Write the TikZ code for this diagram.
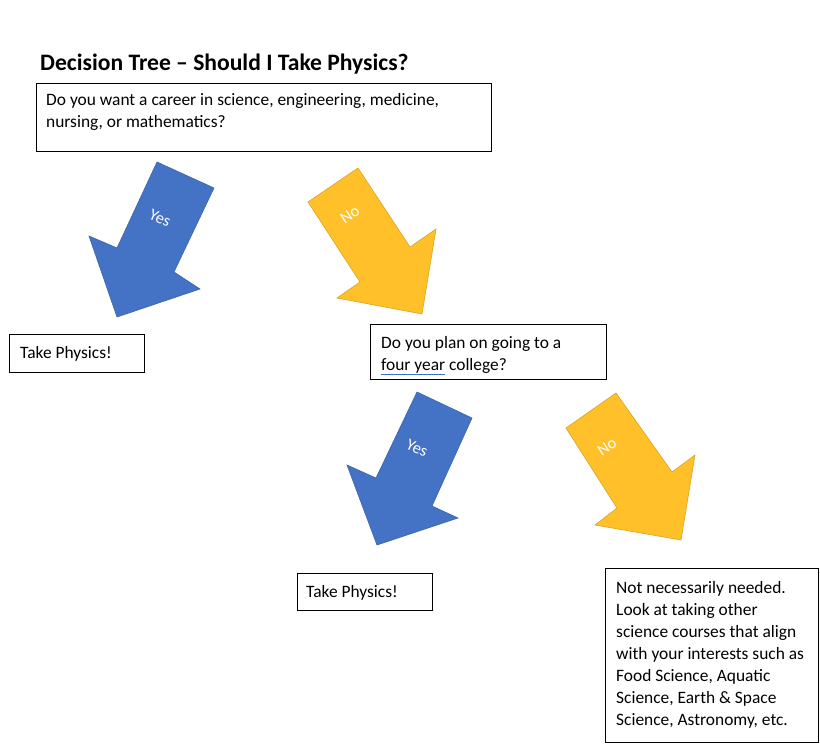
\documentclass[tikz,border=0pt]{standalone}
\usepackage{fontspec}
\setmainfont{Carlito}
\definecolor{offblue}{HTML}{4472C4}
\definecolor{offblueline}{HTML}{3A64AE}
\definecolor{offyellow}{HTML}{FFC02A}
\definecolor{offyellowline}{HTML}{D9A520}
\definecolor{squig}{HTML}{3D6FD0}
\begin{document}
\begin{tikzpicture}[x=1pt,y=-1pt,
  box/.style={draw=black,line width=1.1pt,inner sep=0pt,anchor=north west},
  txt/.style={inner sep=0pt,anchor=north west,align=left,font=\fontsize{17.4}{22}\selectfont},
  yesarrow/.style={fill=offblue,draw=offblueline,line width=0.6pt,line join=miter},
  noarrow/.style={fill=offyellow,draw=offyellowline,line width=0.6pt,line join=miter},
  arrowlbl/.style={text=white,inner sep=0pt,font=\fontsize{16.5}{18}\selectfont}]
\path[use as bounding box,fill=white] (0,0) rectangle (820,755);

% title
\node[inner sep=0pt,anchor=base west,font=\bfseries\fontsize{23.6}{26}\selectfont] (title) at (40,70) {Decision Tree -- Should I Take Physics?};

% question 1
\node[box,minimum width=455pt,minimum height=68pt] (q1) at (36,83) {};
\node[txt] (q1t) at (46,89.6) {\strut Do you want a career in science, engineering, medicine,\\nursing, or mathematics?};

% arrows level 1
\draw[yesarrow] (157,162) -- (214,188) -- (174,272) -- (200,289) -- (117,317) -- (89,236) -- (117,248) -- cycle;
\node[arrowlbl,rotate=-24.5] (yes1) at (160,218) {Yes};
\draw[noarrow] (308,202) -- (358,168) -- (410,247) -- (436,229) -- (422,314) -- (337,298) -- (360,282) -- cycle;
\node[arrowlbl,rotate=34] (no1) at (350,215) {No};

% answer: take physics 1
\node[box,minimum width=135pt,minimum height=38pt] (tp1) at (9,334) {};
\node[txt] (tp1t) at (20,343) {\strut Take Physics!};

% question 2
\node[box,minimum width=236pt,minimum height=55pt] (q2) at (370,324) {};
\node[txt] (q2t) at (381,332.6) {\strut Do you plan on going to a\\\textcolor{squig}{\underline{\textcolor{black}{four year}}} college?};

% arrows level 2
\draw[yesarrow] (417,392) -- (472,418) -- (432,506) -- (458,518) -- (377,545) -- (347,465) -- (376,478) -- cycle;
\node[arrowlbl,rotate=-24.5] (yes2) at (417,448) {Yes};
\draw[noarrow] (566,428) -- (616,393) -- (672,472) -- (695,455) -- (681,540) -- (595,525) -- (617,508) -- cycle;
\node[arrowlbl,rotate=34] (no2) at (607,447) {No};

% answer: take physics 2
\node[box,minimum width=135pt,minimum height=37pt] (tp2) at (297,573) {};
\node[txt] (tp2t) at (306,581.6) {\strut Take Physics!};

% answer: not needed
\node[box,minimum width=213pt,minimum height=174pt] (nn) at (605,568) {};
\node[txt] (nnt) at (616,577.6) {\strut Not necessarily needed.\\Look at taking other\\science courses that align\\with your interests such as\\Food Science, Aquatic\\Science, Earth \& Space\\Science, Astronomy, etc.};
\end{tikzpicture}
\end{document}
